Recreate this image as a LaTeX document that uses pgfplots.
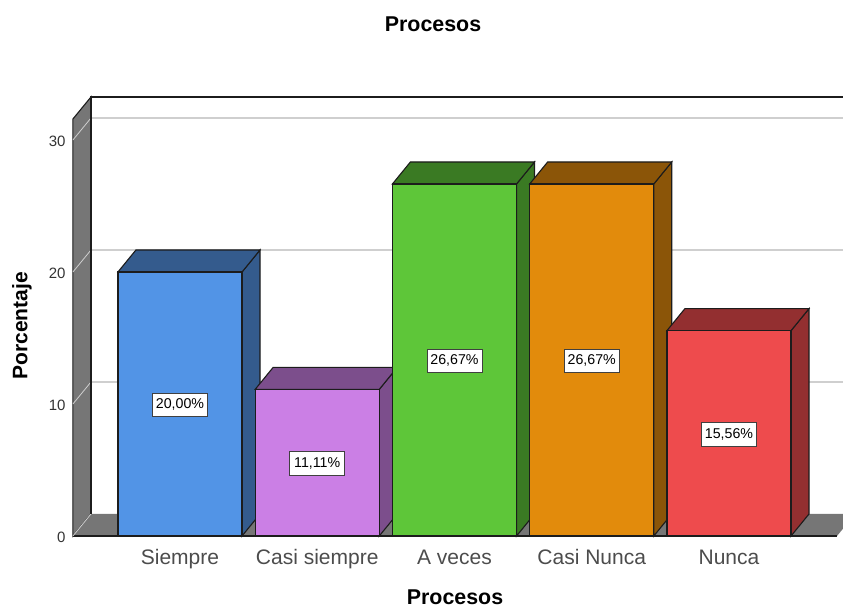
\documentclass[border=0pt]{standalone}
\usepackage{pgfplots}
\pgfplotsset{compat=1.18}
\usepackage{fontspec}
\setmainfont{Liberation Sans}
\definecolor{wall}{HTML}{767676}
\definecolor{gridc}{HTML}{CFCFCF}
\definecolor{edge}{HTML}{1C1C1C}
\definecolor{bluef}{HTML}{5294E6}\definecolor{blued}{HTML}{345B8D}
\definecolor{purf}{HTML}{CB7FE5}\definecolor{purd}{HTML}{7C4E8C}
\definecolor{grnf}{HTML}{5EC639}\definecolor{grnd}{HTML}{3A7A23}
\definecolor{orgf}{HTML}{E28B0C}\definecolor{orgd}{HTML}{8B5508}
\definecolor{redf}{HTML}{EE4B4D}\definecolor{redd}{HTML}{932F30}
\begin{document}
\begin{tikzpicture}
\useasboundingbox (0,0) rectangle (843pt,609pt);
\begin{axis}[
  at={(71pt,59.8pt)}, anchor=south west,
  scale only axis, width=772pt, height=454.2pt,
  xmin=-0.794, xmax=4.8306, ymin=-1, ymax=33.41,
  axis line style={draw=none},
  major tick length=0pt,
  /pgf/number format/assume math mode=true,
  xtick={0,1,2,3,4},
  xticklabels={Siempre,Casi siempre,A veces,Casi Nunca,Nunca},
  ytick={0,10,20,30},
  yticklabel style={font=\fontsize{15}{17}\selectfont, text=black!80, anchor=east, xshift=-2pt, yshift=-1pt},
  xticklabel style={font=\fontsize{21}{24}\selectfont, text=black!70, anchor=base, yshift=-15pt},
]
% walls and floor
\addplot[fill=wall, draw=edge, line width=1.1pt] coordinates {(-0.78,0) (-0.6485,1.667) (-0.6485,33.26) (-0.78,31.59)} -- cycle;
\addplot[fill=wall, draw=none] coordinates {(-0.78,0) (4.787,0) (4.918,1.667) (-0.6485,1.667)} -- cycle;
\addplot[edge, line width=1.1pt] coordinates {(-0.78,0) (4.787,0)};
\addplot[gridc, line width=1.6pt] coordinates {(-0.6485,11.667) (4.84,11.667)};
\addplot[gridc, line width=1.6pt] coordinates {(-0.6485,21.667) (4.84,21.667)};
\addplot[gridc, line width=1.6pt] coordinates {(-0.6485,31.667) (4.84,31.667)};
\addplot[gridc, line width=0.8pt] coordinates {(-0.78,0) (-0.6485,1.667)};
\addplot[gridc, line width=0.8pt] coordinates {(-0.78,10) (-0.6485,11.667)};
\addplot[gridc, line width=0.8pt] coordinates {(-0.78,20) (-0.6485,21.667)};
\addplot[gridc, line width=0.8pt] coordinates {(-0.78,30) (-0.6485,31.667)};
\addplot[edge, line width=1.1pt] coordinates {(-0.6485,1.667) (-0.6485,33.26) (4.84,33.26)};
% Siempre
\addplot[fill=blued, draw=edge, line width=1.1pt] coordinates {(0.452,0) (0.583,1.667) (0.583,21.667) (0.452,20)} -- cycle;
\addplot[fill=blued, draw=edge, line width=1.1pt] coordinates {(-0.452,20) (-0.321,21.667) (0.583,21.667) (0.452,20)} -- cycle;
\addplot[ybar, bar width=124pt, bar shift=0pt, fill=bluef, draw=edge, line width=1.1pt] coordinates {(0,20)};
% Casi siempre
\addplot[fill=purd, draw=edge, line width=1.1pt] coordinates {(1.452,0) (1.583,1.667) (1.583,12.777) (1.452,11.11)} -- cycle;
\addplot[fill=purd, draw=edge, line width=1.1pt] coordinates {(0.548,11.11) (0.679,12.777) (1.583,12.777) (1.452,11.11)} -- cycle;
\addplot[ybar, bar width=124pt, bar shift=0pt, fill=purf, draw=edge, line width=1.1pt] coordinates {(1,11.11)};
% A veces
\addplot[fill=grnd, draw=edge, line width=1.1pt] coordinates {(2.452,0) (2.583,1.667) (2.583,28.337) (2.452,26.67)} -- cycle;
\addplot[fill=grnd, draw=edge, line width=1.1pt] coordinates {(1.548,26.67) (1.679,28.337) (2.583,28.337) (2.452,26.67)} -- cycle;
\addplot[ybar, bar width=124pt, bar shift=0pt, fill=grnf, draw=edge, line width=1.1pt] coordinates {(2,26.67)};
% Casi Nunca
\addplot[fill=orgd, draw=edge, line width=1.1pt] coordinates {(3.452,0) (3.583,1.667) (3.583,28.337) (3.452,26.67)} -- cycle;
\addplot[fill=orgd, draw=edge, line width=1.1pt] coordinates {(2.548,26.67) (2.679,28.337) (3.583,28.337) (3.452,26.67)} -- cycle;
\addplot[ybar, bar width=124pt, bar shift=0pt, fill=orgf, draw=edge, line width=1.1pt] coordinates {(3,26.67)};
% Nunca
\addplot[fill=redd, draw=edge, line width=1.1pt] coordinates {(4.452,0) (4.583,1.667) (4.583,17.227) (4.452,15.56)} -- cycle;
\addplot[fill=redd, draw=edge, line width=1.1pt] coordinates {(3.548,15.56) (3.679,17.227) (4.583,17.227) (4.452,15.56)} -- cycle;
\addplot[ybar, bar width=124pt, bar shift=0pt, fill=redf, draw=edge, line width=1.1pt] coordinates {(4,15.56)};
% value labels
\tikzset{vl/.style={fill=white, draw=black!75, line width=0.9pt, inner sep=0pt, minimum width=55pt, minimum height=23.5pt, font=\fontsize{14.2}{16}\selectfont, text=black}}
\node[vl] at (axis cs:0,9.93) {20,00\%};
\node[vl] at (axis cs:1,5.49) {11,11\%};
\node[vl] at (axis cs:2,13.27) {26,67\%};
\node[vl] at (axis cs:3,13.27) {26,67\%};
\node[vl] at (axis cs:4,7.71) {15,56\%};
\end{axis}
\node[font=\bfseries\fontsize{21.4}{24}\selectfont, text=black, inner sep=0pt] at (433pt,585pt) {Procesos};
\node[font=\bfseries\fontsize{21.4}{24}\selectfont, text=black, inner sep=0pt] at (455pt,11.5pt) {Procesos};
\node[font=\bfseries\fontsize{21}{24}\selectfont, text=black, rotate=90, inner sep=0pt] at (22pt,283pt) {Porcentaje};
\end{tikzpicture}
\end{document}
